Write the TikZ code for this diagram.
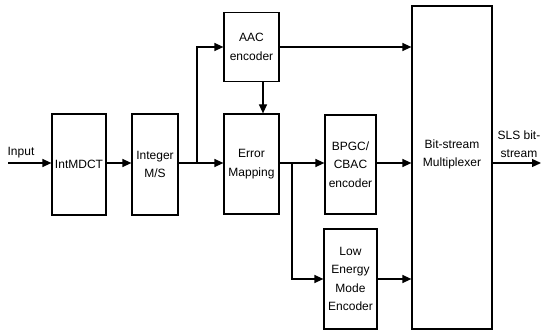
\documentclass[tikz,border=0pt]{standalone}
\usepackage{fontspec}
\setmainfont{Liberation Sans}
\usetikzlibrary{arrows.meta}
\begin{document}
\begin{tikzpicture}[x=1pt,y=-1pt,
  blk/.style={draw=black,line width=1.2pt,rectangle,inner sep=0pt,align=center,
    font=\fontsize{12}{18.5}\selectfont},
  txt/.style={inner sep=0pt,align=center,font=\fontsize{12}{18.5}\selectfont},
  arr/.style={line width=1.2pt,-{Triangle[length=9pt,width=8pt]}},
  ln/.style={line width=1.2pt}]
\useasboundingbox (0,0) rectangle (542,331);
\node[blk,minimum width=54pt,minimum height=101pt] (intmdct) at (79,164.5) {IntMDCT};
\node[blk,minimum width=46pt,minimum height=101pt] (integer) at (155,164.5) {Integer\\M/S};
\node[blk,minimum width=55pt,minimum height=69pt] (aac) at (251.5,47) {AAC\\encoder};
\node[blk,minimum width=55pt,minimum height=100pt] (error) at (251.5,164) {Error\\Mapping};
\node[blk,minimum width=51pt,minimum height=99pt] (bpgc) at (350.5,164.5) {BPGC/\\CBAC\\encoder};
\node[blk,minimum width=53pt,minimum height=100pt] (lowe) at (350.5,279) {Low\\Energy\\Mode\\Encoder};
\node[blk,minimum width=80pt,minimum height=323pt] (mux) at (452,167.5) {};
\node[txt] (muxtxt) at ([yshift=13pt]mux.center) {Bit-stream\\Multiplexer};
\coordinate (in) at (8,163);
\coordinate (b1) at (197,163);
\coordinate (b2) at (292,163);
\coordinate (out) at (541,163);
\node[txt,anchor=south] (inlabel) at (21,158) {Input};
\node[txt] (slslabel) at (519,144) {SLS bit-\\stream};
\draw[arr] (in) -- (in -| intmdct.west);
\draw[arr] (intmdct.east |- in) -- (integer.west |- in);
\draw[arr] (integer.east |- in) -- (error.west |- in);
\draw[arr] (b1) |- (aac.west);
\draw[arr] (aac.east) -- (aac.east -| mux.west);
\draw[arr] ([xshift=11.5pt]aac.south) -- ([xshift=11.5pt]error.north);
\draw[arr] (error.east |- in) -- (bpgc.west |- in);
\draw[arr] (b2) |- (lowe.west);
\draw[arr] (bpgc.east |- in) -- (mux.west |- in);
\draw[arr] (lowe.east) -- (lowe.east -| mux.west);
\draw[arr] (mux.east |- in) -- (out);
\end{tikzpicture}
\end{document}
